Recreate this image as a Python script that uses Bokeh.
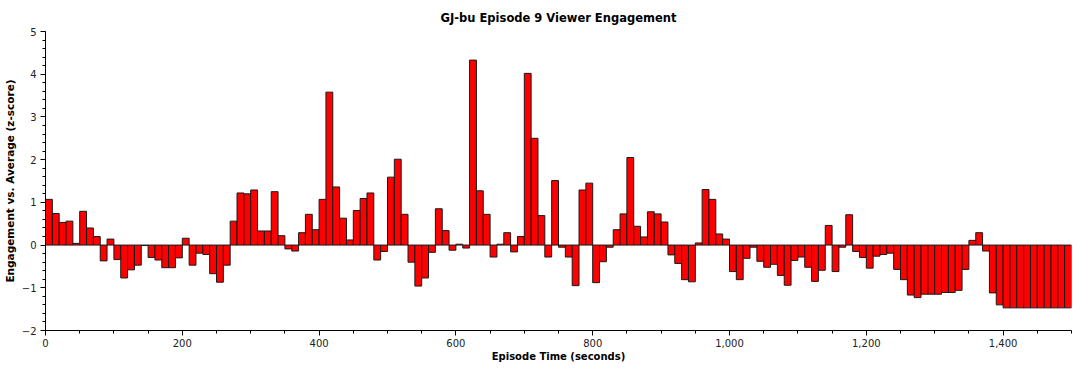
from bokeh.plotting import figure
from bokeh.models import Range1d, SingleIntervalTicker, NumeralTickFormatter, ColumnDataSource
from bokeh.embed import file_html
from bokeh.resources import INLINE

# Episode time bins (seconds, start of each 10-second bin)
times = list(range(0, 1500, 10))

# Engagement z-score per bin
engagement = [
    1.07, 0.74, 0.53, 0.56, 0.04, 0.79, 0.40, 0.20, -0.37, 0.14,
    -0.34, -0.77, -0.58, -0.47, -0.01, -0.29, -0.35, -0.53, -0.53, -0.30,
    0.16, -0.47, -0.19, -0.22, -0.67, -0.87, -0.47, 0.56, 1.22, 1.20,
    1.29, 0.33, 0.33, 1.25, 0.22, -0.09, -0.14, 0.29, 0.72, 0.36,
    1.07, 3.58, 1.36, 0.63, 0.12, 0.81, 1.09, 1.22, -0.35, -0.15,
    1.59, 2.01, 0.72, -0.40, -0.96, -0.77, -0.17, 0.85, 0.34, -0.12,
    0.02, -0.07, 4.33, 1.27, 0.72, -0.28, 0.02, 0.29, -0.16, 0.20,
    4.02, 2.50, 0.69, -0.28, 1.51, -0.05, -0.28, -0.95, 1.29, 1.45,
    -0.88, -0.39, -0.05, 0.36, 0.73, 2.05, 0.44, 0.19, 0.78, 0.73,
    0.54, -0.23, -0.43, -0.81, -0.86, 0.05, 1.30, 1.07, 0.26, 0.14,
    -0.62, -0.81, -0.31, -0.05, -0.38, -0.52, -0.45, -0.71, -0.94, -0.36,
    -0.28, -0.52, -0.85, -0.59, 0.46, -0.62, -0.05, 0.71, -0.15, -0.29,
    -0.54, -0.26, -0.22, -0.19, -0.57, -0.81, -1.17, -1.23, -1.15, -1.15,
    -1.15, -1.11, -1.11, -1.06, -0.57, 0.11, 0.29, -0.14, -1.12, -1.40,
    -1.47, -1.47, -1.47, -1.47, -1.47, -1.47, -1.47, -1.47, -1.47, -1.47,
]

bin_width = 10
title_text = "GJ-bu Episode 9 Viewer Engagement"
x_label = "Episode Time (seconds)"
y_label = "Engagement vs. Average (z-score)"

source = ColumnDataSource(dict(
    left=times,
    right=[t + bin_width for t in times],
    top=[max(v, 0) for v in engagement],
    bottom=[min(v, 0) for v in engagement],
))

FONT = "DejaVu Sans"

p = figure(
    width=1073, height=364,
    output_backend="svg", toolbar_location=None,
    x_range=Range1d(0, 1500), y_range=Range1d(-2, 5),
    min_border_left=45, min_border_right=2, min_border_top=31, min_border_bottom=33,
)
p.title.text = title_text
p.title.align = "center"
p.title.text_font = FONT
p.title.text_font_size = "11.5px"
p.title.text_font_style = "bold"
p.title.text_color = "#000000"
p.title.standoff = 14

p.quad(left="left", right="right", top="top", bottom="bottom", source=source,
       fill_color="#FF0000", line_color="#1a1a1a", line_width=1)

p.xgrid.visible = False
p.ygrid.visible = False
p.outline_line_color = None
p.background_fill_color = "white"
p.border_fill_color = "white"

p.xaxis.ticker = SingleIntervalTicker(interval=200, num_minor_ticks=4)
p.xaxis.formatter = NumeralTickFormatter(format="0,0")
p.yaxis.ticker = SingleIntervalTicker(interval=1, num_minor_ticks=5)

for ax in (p.xaxis[0], p.yaxis[0]):
    ax.axis_line_color = "#000000"
    ax.major_tick_line_color = "#000000"
    ax.minor_tick_line_color = "#000000"
    ax.major_tick_out = 5
    ax.major_tick_in = 0
    ax.minor_tick_out = 3
    ax.minor_tick_in = 0
    ax.major_label_text_font = FONT
    ax.major_label_text_font_size = "10px"
    ax.major_label_text_color = "#222222"
    ax.axis_label_text_font = FONT
    ax.axis_label_text_font_style = "bold"
    ax.axis_label_text_color = "#000000"

p.xaxis.axis_label_text_font_size = "10px"
p.yaxis.axis_label_text_font_size = "10.5px"
p.xaxis.major_label_standoff = 3
p.xaxis.axis_label_standoff = 1
p.yaxis.major_label_standoff = 4
p.yaxis.axis_label_standoff = 3

p.xaxis.axis_label = x_label
p.yaxis.axis_label = y_label

open("out.html", "w").write(file_html(p, INLINE))
